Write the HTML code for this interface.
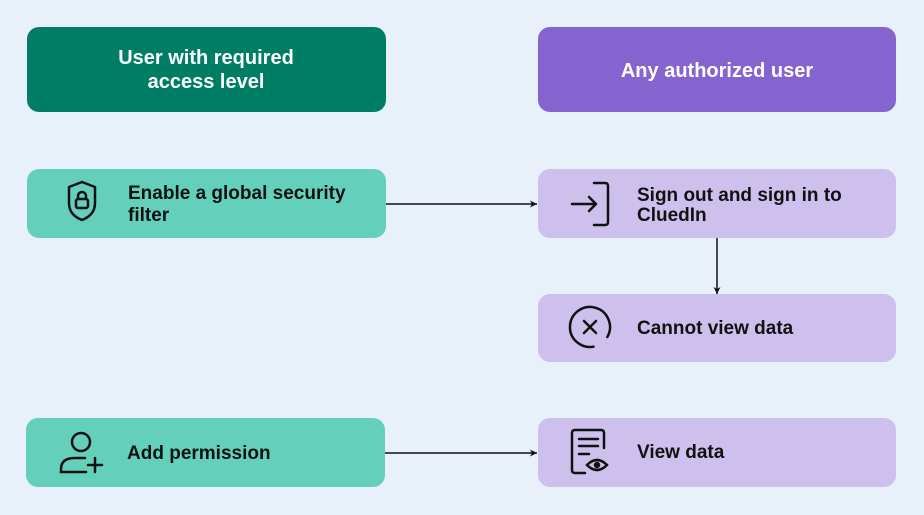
<!DOCTYPE html>
<html><head><style>
html,body{margin:0;padding:0;background:#e8f0f9;}
svg{display:block}
text{font-family:"Liberation Sans",sans-serif;font-weight:bold;font-size:19px;fill:#111;}
.w{fill:#fff;font-size:20px}
</style></head><body>
<svg width="924" height="515" viewBox="0 0 924 515" xmlns="http://www.w3.org/2000/svg">
<defs><marker id="a" markerUnits="userSpaceOnUse" markerWidth="8" markerHeight="8" refX="7" refY="4" orient="auto"><path d="M0,0.5 L7,4 L0,7.5 L2,4 z" fill="#111"/></marker></defs>
<rect x="27" y="27" width="359" height="85" rx="12" fill="#007e65"/>
<text class="w" x="206" y="64" text-anchor="middle">User with required</text>
<text class="w" x="206" y="88" text-anchor="middle">access level</text>
<rect x="538" y="27" width="358" height="85" rx="12" fill="#8564d0"/>
<text class="w" x="717" y="77" text-anchor="middle">Any authorized user</text>

<rect x="27" y="169" width="359" height="69" rx="12" fill="#64d0bb"/>
<g fill="none" stroke="#111" stroke-width="2.5" stroke-linecap="round" stroke-linejoin="round">
<path d="M82 182 L95 187 L95 203 Q95 215 82 220 Q69 215 69 203 L69 187 Z"/>
<rect x="76" y="199" width="12" height="9" rx="2"/><path d="M78 199 v-3 a4 4 0 0 1 8 0 v3"/>
</g>
<text x="128" y="199">Enable a global security</text>
<text x="128" y="221">filter</text>

<rect x="538" y="169" width="358" height="69" rx="12" fill="#cec0ec"/>
<g fill="none" stroke="#111" stroke-width="2.5" stroke-linecap="round" stroke-linejoin="round">
<path d="M594 183 h11 q3 0 3 3 v36 q0 3 -3 3 h-11"/><path d="M572 204 h24 M589 197 l7 7 l-7 7"/>
</g>
<text x="637" y="201">Sign out and sign in to</text>
<text x="637" y="221">CluedIn</text>

<rect x="538" y="294" width="358" height="68" rx="12" fill="#cec0ec"/>
<g fill="none" stroke="#111" stroke-width="2.5" stroke-linecap="round">
<path d="M593.5 346.7 A20 20 0 1 1 607.3 337"/><path d="M584 321 l12 12 M596 321 l-12 12"/>
</g>
<text x="637" y="334">Cannot view data</text>

<rect x="26" y="418" width="359" height="69" rx="12" fill="#64d0bb"/>
<g fill="none" stroke="#111" stroke-width="2.5" stroke-linecap="round">
<circle cx="81" cy="442" r="9"/><path d="M61 472 v-3 q0-11 14-11 h10"/><path d="M61 472 h25 M95 458 v14 M88 465 h14"/>
</g>
<text x="127" y="459">Add permission</text>

<rect x="538" y="418" width="358" height="69" rx="12" fill="#cec0ec"/>
<g fill="none" stroke="#111" stroke-width="2.5" stroke-linecap="round">
<path d="M585 473 h-10 q-3 0 -3 -3 v-37 q0-3 3-3 h26 q3 0 3 3 v15"/>
<path d="M579 439 h19 M579 446 h19 M579 454 h10"/>
<path d="M587 465 q10 -10 20 0 q-10 10 -20 0 z"/><circle cx="597" cy="465" r="2" fill="#111"/>
</g>
<text x="637" y="458">View data</text>

<g stroke="#111" stroke-width="1.5">
<line x1="386" y1="204" x2="537" y2="204" marker-end="url(#a)"/>
<line x1="717" y1="238" x2="717" y2="294" marker-end="url(#a)"/>
<line x1="385" y1="453" x2="537" y2="453" marker-end="url(#a)"/>
</g>
</svg>
</body></html>
